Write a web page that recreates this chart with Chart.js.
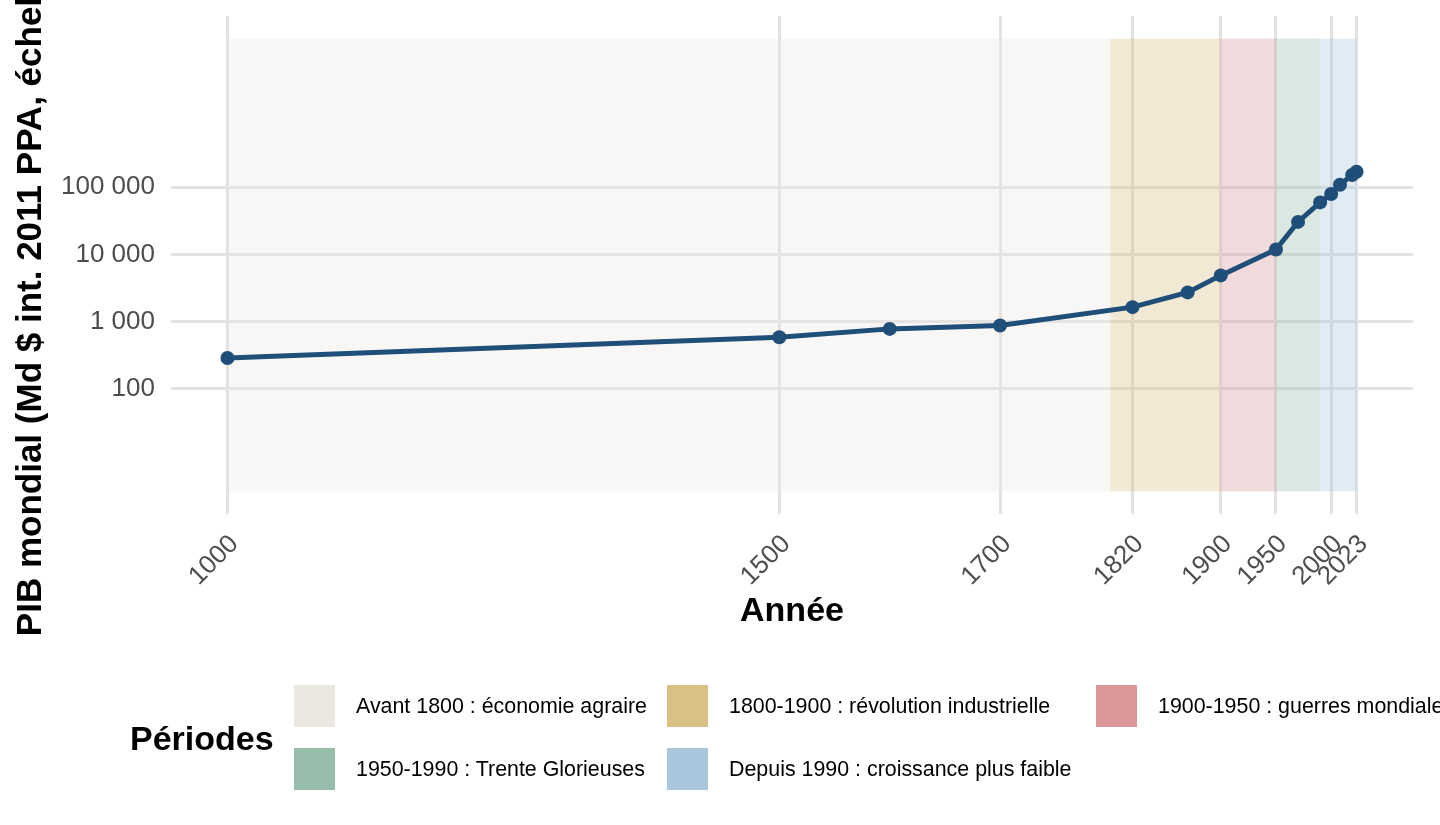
<!DOCTYPE html>
<html>
<head>
  <title>PIB mondial</title>
  <style>
    body {
      margin: 0;
      width: 1440px;
      height: 825px;
      overflow: hidden;
      background: #ffffff;
      font-family: "Liberation Sans", Arial, sans-serif;
    }
    .wrap {
      position: relative;
      width: 1440px;
      height: 825px;
    }
    .legend-title {
      position: absolute;
      left: 130px;
      top: 718px;
      font-size: 34px;
      font-weight: bold;
      line-height: 40px;
      color: #000;
    }
    .key {
      position: absolute;
      width: 41px;
      height: 42px;
    }
    .key-label {
      position: absolute;
      font-size: 21.4px;
      line-height: 42px;
      color: #000;
      white-space: nowrap;
    }
  </style>
  <script src="https://cdn.jsdelivr.net/npm/chart.js"></script>
</head>
<body>
  <div class="wrap">
    <canvas id="gdpChart"></canvas>
    <div class="legend-title">Périodes</div>
    <div id="legend"></div>
  </div>
  <script>
    // World GDP (bn 2011 int. $ PPP)
    const years = [1000, 1500, 1600, 1700, 1820, 1870, 1900, 1950, 1970, 1990, 2000, 2008, 2019, 2023];
    const gdp = [285, 580, 774, 869, 1633, 2710, 4860, 11800, 30500, 59600, 79400, 109000, 153000, 171000];

    // Background periods
    const periodLabels = [
      'Avant 1800 : économie agraire',
      '1800-1900 : révolution industrielle',
      '1900-1950 : guerres mondiales',
      '1950-1990 : Trente Glorieuses',
      'Depuis 1990 : croissance plus faible'
    ];
    const periodStart = [1000, 1800, 1900, 1950, 1990];
    const periodEnd = [1800, 1900, 1950, 1990, 2023];
    const periodColors = ['#EBE7E1', '#DBC084', '#D9979A', '#96BDAA', '#A9C6DC'];
    // vertical extent of the period bands
    const bandMin = 2.92;
    const bandMax = 1.65e7;

    // Axis ticks
    const xTicks = [1000, 1500, 1700, 1820, 1900, 1950, 2000, 2023];
    const yTicks = [100, 1000, 10000, 100000];

    // axes expanded by 5% like ggplot
    const xLo = Math.min(...periodStart), xHi = Math.max(...periodEnd);
    const xPad = (xHi - xLo) * 0.05;
    const yLogPad = (Math.log10(bandMax) - Math.log10(bandMin)) * 0.05;

    const FONT = '"Liberation Sans", Arial, sans-serif';

    function spaced(v) {
      return String(v).replace(/\B(?=(\d{3})+(?!\d))/g, ' ');
    }

    // Draw period bands behind the line, over the grid
    const periodBands = {
      id: 'periodBands',
      beforeDatasetsDraw(chart) {
        const { ctx, scales: { x, y } } = chart;
        ctx.save();
        ctx.globalAlpha = 0.35;
        const top = y.getPixelForValue(bandMax);
        const bottom = y.getPixelForValue(bandMin);
        for (let i = 0; i < periodLabels.length; i++) {
          const left = x.getPixelForValue(periodStart[i]);
          const right = x.getPixelForValue(periodEnd[i]);
          ctx.fillStyle = periodColors[i];
          ctx.fillRect(left, top, right - left, bottom - top);
        }
        ctx.restore();
      }
    };

    new Chart(document.getElementById('gdpChart'), {
      type: 'line',
      data: {
        datasets: [{
          data: years.map((yr, i) => ({ x: yr, y: gdp[i] })),
          borderColor: '#1F4E79',
          backgroundColor: '#1F4E79',
          borderWidth: 5,
          pointRadius: 7,
          pointBorderWidth: 0,
          tension: 0
        }]
      },
      options: {
        responsive: true,
        maintainAspectRatio: false,
        animation: false,
        layout: { padding: { top: 16, right: 27, bottom: 193, left: 0 } },
        plugins: {
          legend: { display: false },
          tooltip: { enabled: false }
        },
        scales: {
          x: {
            type: 'linear',
            min: xLo - xPad,
            max: xHi + xPad,
            afterBuildTicks: scale => { scale.ticks = xTicks.map(v => ({ value: v })); },
            afterFit: scale => {
              scale.height = 118;
              scale.paddingLeft = 0;
              scale.paddingRight = 0;
            },
            border: { display: false },
            grid: { color: '#E2E2E2', lineWidth: 3, drawTicks: false },
            ticks: {
              autoSkip: false,
              minRotation: 45,
              maxRotation: 45,
              padding: 15,
              labelOffset: 7,
              color: '#4D4D4D',
              font: { family: FONT, size: 26 },
              callback: v => String(v)
            },
            title: {
              display: true,
              text: 'Année',
              color: '#000',
              padding: 0,
              font: { family: FONT, size: 34, weight: 'bold' }
            }
          },
          y: {
            type: 'logarithmic',
            min: Math.pow(10, Math.log10(bandMin) - yLogPad),
            max: Math.pow(10, Math.log10(bandMax) + yLogPad),
            afterBuildTicks: scale => { scale.ticks = yTicks.map(v => ({ value: v })); },
            afterFit: scale => {
              scale.width = 171;
              scale.paddingTop = 0;
              scale.paddingBottom = 0;
            },
            border: { display: false },
            grid: { color: '#E2E2E2', lineWidth: 3, drawTicks: false },
            ticks: {
              padding: 16,
              color: '#4D4D4D',
              font: { family: FONT, size: 26 },
              callback: v => spaced(v)
            },
            title: {
              display: true,
              text: 'PIB mondial (Md $ int. 2011 PPA, échelle log)',
              color: '#000',
              padding: { top: 10, bottom: 0 },
              font: { family: FONT, size: 35, weight: 'bold' }
            }
          }
        }
      },
      plugins: [periodBands]
    });

    // Legend: 3 columns, 2 rows
    const colX = [294, 667, 1096];
    const rowY = [685, 748];
    const legend = document.getElementById('legend');
    periodLabels.forEach((label, i) => {
      const cx = colX[i % 3], cy = rowY[Math.floor(i / 3)];
      const key = document.createElement('div');
      key.className = 'key';
      key.style.left = cx + 'px';
      key.style.top = cy + 'px';
      key.style.background = periodColors[i];
      legend.appendChild(key);
      const txt = document.createElement('div');
      txt.className = 'key-label';
      txt.style.left = (cx + 62) + 'px';
      txt.style.top = cy + 'px';
      txt.textContent = label;
      legend.appendChild(txt);
    });
  </script>
</body>
</html>
